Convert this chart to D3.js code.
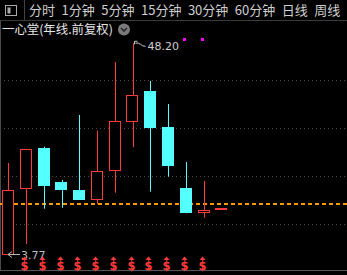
<!DOCTYPE html>
<html>
<head>
<meta charset="utf-8">
<script src="https://cdn.jsdelivr.net/npm/d3@7"></script>
<style>
  html, body { margin: 0; padding: 0; background: #000; }
  svg { display: block; }
</style>
</head>
<body>
<svg id="chart"></svg>
<script>
// yearly candles, forward adjusted
const years = ["2014", "2015", "2016", "2017", "2018", "2019", "2020", "2021", "2022", "2023", "2024", "2025", "2026"];
const openV  = [3.77, 17.62, 26.12, 18.95, 17.27, 15.43, 21.42, 31.75, 38.14, 30.55, 17.69, 12.56, 13.20];
const closeV = [17.27, 25.85, 18.38, 17.54, 15.43, 21.27, 31.82, 37.24, 30.62, 22.60, 12.69, 13.05, 13.20];
const highV  = [22.96, 25.85, 26.40, 19.38, 33.08, 29.77, 44.26, 48.20, 40.25, 35.40, 23.17, 19.16, 13.20];
const lowV   = [3.77, 5.88, 13.32, 13.53, 15.43, 14.31, 16.70, 26.27, 16.91, 20.07, 12.35, 11.43, 13.20];
const dividendYears = ["2015", "2016", "2017", "2018", "2019", "2020", "2021", "2022", "2023", "2024", "2025"];
const noticeYears = ["2024", "2025"];
const lastLine = 14.25;
const periods = ["分时", "1分钟", "5分钟", "15分钟", "30分钟", "60分钟", "日线", "周线"];
const title = "一心堂(年线.前复权)";

const W = 347, H = 275;
const RED = "#ff3b3b", CYAN = "#54ffff";
const FONT = "'Noto Sans CJK SC', 'Noto Sans', sans-serif";

const data = years.map((y, i) => ({ year: y, open: openV[i], close: closeV[i], high: highV[i], low: lowV[i] }));

const svg = d3.select("#chart").attr("width", W).attr("height", H);
svg.append("rect").attr("width", W).attr("height", H).attr("fill", "#000");

// ---- toolbar
svg.append("rect").attr("x", 5.5).attr("y", 5.5).attr("width", 11).attr("height", 10)
  .attr("fill", "none").attr("stroke", "#aaa");
svg.append("rect").attr("x", 7.5).attr("y", 7.5).attr("width", 3).attr("height", 6)
  .attr("fill", "#aaa");
svg.append("line").attr("x1", 24.5).attr("x2", 24.5).attr("y1", 0).attr("y2", 20)
  .attr("stroke", "#444");
svg.append("line").attr("x1", 0).attr("x2", W).attr("y1", 20.5).attr("y2", 20.5)
  .attr("stroke", "#3a3a3a");

let tx = 29;
periods.forEach(p => {
  const t = svg.append("text").attr("x", tx).attr("y", 15).text(p)
    .attr("font-family", FONT).attr("font-size", 13).attr("fill", "#cfcfcf");
  tx += t.node().getComputedTextLength() + 6.5;
});

// title + dropdown
const tt = svg.append("text").attr("x", 2).attr("y", 34).text(title)
  .attr("font-family", FONT).attr("font-size", 12.4).attr("fill", "#e6e6e6");
const tEnd = 2 + tt.node().getComputedTextLength();
svg.append("circle").attr("cx", tEnd + 11).attr("cy", 29.5).attr("r", 6).attr("fill", "#7a7a7a");
svg.append("path").attr("d", `M${tEnd + 8},28 L${tEnd + 11},31 L${tEnd + 14},28`).attr("fill", "none")
  .attr("stroke", "#2a2a2a").attr("stroke-width", 1.6);

// ---- plot frame
const plotTop = 32, plotBottom = 272;
svg.append("line").attr("x1", 0.5).attr("x2", 0.5).attr("y1", 21).attr("y2", 270)
  .attr("stroke", "#4a4a4a");
svg.append("line").attr("x1", 0).attr("x2", W).attr("y1", 270.5).attr("y2", 270.5)
  .attr("stroke", "#555");

const x = d3.scaleBand().domain(years).range([-0.5, 230.4]).paddingInner(0.3).paddingOuter(0.15);
const y = d3.scaleLinear().domain([d3.min(lowV), d3.max(highV)]).range([254, 43.3]);
const cx = d => Math.round(x(d) + x.bandwidth() / 2) + 0.5;

// dotted grid
const grid = d3.range(1, 5).map(i => plotTop + i * (plotBottom - plotTop) / 5);
svg.append("g").selectAll("line").data(grid).enter().append("line")
  .attr("x1", 4).attr("x2", W).attr("y1", d => d + 0.5).attr("y2", d => d + 0.5)
  .attr("stroke", "#4a4a4a").attr("stroke-dasharray", "1,3");

// last line
svg.append("line").attr("x1", 0).attr("x2", W)
  .attr("y1", Math.round(y(lastLine))).attr("y2", Math.round(y(lastLine)))
  .attr("stroke", "#ff9a00").attr("stroke-width", 2).attr("stroke-dasharray", "4,3");

// candles
const g = svg.append("g");
data.forEach(d => {
  const up = d.close >= d.open;
  const col = up ? RED : CYAN;
  const c = cx(d.year);
  const top = Math.round(y(Math.max(d.open, d.close)));
  const bot = Math.round(y(Math.min(d.open, d.close)));
  const x0 = Math.round(x(d.year));
  const bw = Math.round(x.bandwidth());
  if (d.open === d.close) {
    g.append("rect").attr("x", x0).attr("y", top - 1).attr("width", bw).attr("height", 2).attr("fill", col);
    return;
  }
  if (up) {
    g.append("line").attr("x1", c).attr("x2", c).attr("y1", y(d.high)).attr("y2", top).attr("stroke", col);
    g.append("line").attr("x1", c).attr("x2", c).attr("y1", bot).attr("y2", y(d.low)).attr("stroke", col);
    g.append("rect").attr("x", x0 + 0.5).attr("y", top + 0.5).attr("width", bw - 1).attr("height", bot - top)
      .attr("fill", "#000").attr("stroke", col);
  } else {
    g.append("line").attr("x1", c).attr("x2", c).attr("y1", y(d.high)).attr("y2", y(d.low)).attr("stroke", col);
    g.append("rect").attr("x", x0).attr("y", top).attr("width", bw).attr("height", bot - top + 1).attr("fill", col);
  }
});

// high / low annotations
const hi = data[d3.maxIndex(data, d => d.high)];
const lo = data[d3.minIndex(data, d => d.low)];
const hx = cx(hi.year), hy = y(hi.high);
svg.append("path").attr("d", `M${hx + 1},${hy - 2} L${hx + 1},${hy + 1} M${hx + 1},${hy - 2} L${hx + 4},${hy - 2} M${hx + 2},${hy} Q${hx + 5},${hy - 1} ${hx + 7},${hy + 1} T${hx + 12},${hy + 3}`)
  .attr("fill", "none").attr("stroke", "#ccc");
svg.append("text").attr("x", hx + 14).attr("y", hy + 7).text(hi.high.toFixed(2))
  .attr("font-family", "'DejaVu Sans', sans-serif").attr("font-size", 11).attr("fill", "#cfcfcf");

const lx = Math.round(x(lo.year) + x.bandwidth() / 2), ly = Math.round(y(lo.low)) + 0.5;
svg.append("path").attr("d", `M${lx},${ly} L${lx + 12},${ly} M${lx},${ly} L${lx + 4},${ly - 3} M${lx},${ly} L${lx + 4},${ly + 3}`)
  .attr("fill", "none").attr("stroke", "#bbb");
svg.append("text").attr("x", lx + 13).attr("y", ly + 4).text(lo.low.toFixed(2))
  .attr("font-family", "'DejaVu Sans', sans-serif").attr("font-size", 11).attr("fill", "#bdbdbd");

// dividend markers
const dv = svg.append("g").selectAll("g").data(dividendYears).enter().append("g")
  .attr("transform", d => `translate(${Math.round(x(d) + x.bandwidth() / 2) - 1.5},0)`);
dv.append("path").attr("d", "M-3,260 L0,256.5 L3,260 Z").attr("fill", RED);
dv.append("text").attr("x", 0).attr("y", 269.5).attr("text-anchor", "middle").text("$")
  .attr("font-family", "'DejaVu Sans', sans-serif").attr("font-weight", "bold")
  .attr("font-size", 11.5).attr("fill", RED);

// notice markers
svg.append("g").selectAll("rect").data(noticeYears).enter().append("rect")
  .attr("x", d => Math.round(x(d) + x.bandwidth() / 2) - 3).attr("y", 38)
  .attr("width", 3).attr("height", 3).attr("fill", "#ff00ff");
</script>
</body>
</html>
